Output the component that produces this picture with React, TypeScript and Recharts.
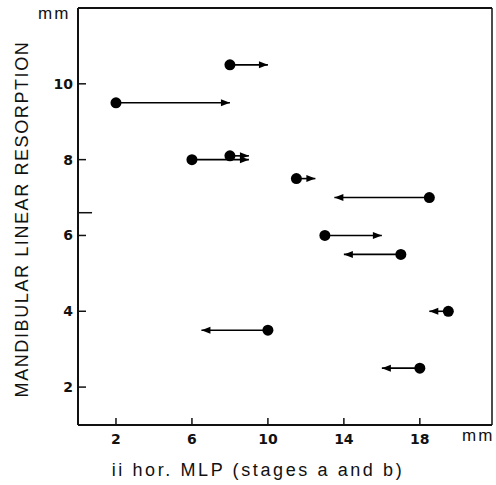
import { ReferenceLine, Scatter, ScatterChart, XAxis, YAxis } from "recharts";

// each row: resorption value (y), start of MLP range (dot) and end (arrow tip)
const resorption = [10.5, 9.5, 8, 8.1, 7.5, 7, 6, 5.5, 4, 3.5, 2.5];
const mlpStart = [8, 2, 6, 8, 11.5, 18.5, 13, 17, 19.5, 10, 18];
const mlpEnd = [10, 8, 9, 9, 12.5, 13.5, 16, 14, 18.5, 6.5, 16];

const xTicks = [2, 6, 10, 14, 18];
const yTicks = [2, 4, 6, 8, 10];
const xDomain = [0, 21.8];
const yDomain = [1, 12];
const markY = 6.6;

const W = 496;
const H = 485;

const dots = resorption.map((y, i) => ({ x: mlpStart[i], y }));
const heads = resorption.map((y, i) => ({ x: mlpEnd[i], y, dir: mlpEnd[i] > mlpStart[i] ? 1 : -1 }));
const segments = resorption.map((y, i) => [
  { x: mlpStart[i], y },
  { x: mlpEnd[i], y },
]);

const tickFont = { fontFamily: "'DejaVu Sans', sans-serif", fontWeight: 700, fontSize: 14, fill: "#111" };
const labelFont = "'Liberation Sans', Arial, sans-serif";

function XTick({ x, y, payload }: any) {
  return (
    <g>
      <line x1={x} x2={x} y1={y} y2={y - 7} stroke="#111" strokeWidth={1.5} />
      <text x={x} y={y + 19} textAnchor="middle" {...tickFont}>
        {payload.value}
      </text>
    </g>
  );
}

function YTick({ x, y, payload }: any) {
  return (
    <g>
      <line x1={x} x2={x + 8} y1={y} y2={y} stroke="#111" strokeWidth={1.5} />
      <text x={x - 5} y={y + 5} textAnchor="end" {...tickFont}>
        {payload.value}
      </text>
    </g>
  );
}

function Dot({ cx, cy }: any) {
  return <circle cx={cx} cy={cy} r={5.5} fill="#000" />;
}

function Head({ cx, cy, payload }: any) {
  const d = payload.dir;
  const b = cx - d * 9;
  return <polygon points={`${cx},${cy} ${b},${cy - 3.5} ${b},${cy + 3.5}`} fill="#000" />;
}

export default function App() {
  return (
    <div style={{ position: "absolute", left: 0, top: 0, width: W, height: H, background: "#fff" }}>
      <ScatterChart width={W} height={H} margin={{ top: 8, right: 4, bottom: 0, left: 0 }}>
        <XAxis
          type="number"
          dataKey="x"
          domain={xDomain}
          ticks={xTicks}
          height={60}
          tickSize={0}
          tickMargin={0}
          tickLine={false}
          tick={<XTick />}
          axisLine={{ stroke: "#111", strokeWidth: 2 }}
          allowDataOverflow
        />
        <YAxis
          type="number"
          dataKey="y"
          domain={yDomain}
          ticks={yTicks}
          width={78}
          tickSize={0}
          tickMargin={0}
          tickLine={false}
          tick={<YTick />}
          axisLine={{ stroke: "#111", strokeWidth: 2 }}
          allowDataOverflow
        />
        <ReferenceLine
          ifOverflow="visible"
          segment={[
            { x: xDomain[0], y: yDomain[1] },
            { x: xDomain[1], y: yDomain[1] },
          ]}
          stroke="#111"
          strokeWidth={2}
        />
        <ReferenceLine
          ifOverflow="visible"
          segment={[
            { x: xDomain[1], y: yDomain[0] },
            { x: xDomain[1], y: yDomain[1] },
          ]}
          stroke="#111"
          strokeWidth={1.5}
        />
        <ReferenceLine
          ifOverflow="visible"
          segment={[
            { x: 0, y: markY },
            { x: 0.74, y: markY },
          ]}
          stroke="#111"
          strokeWidth={1.5}
        />
        {segments.map((seg, i) => (
          <Scatter
            key={i}
            data={seg}
            line={{ stroke: "#000", strokeWidth: 1.6 }}
            shape={() => <g />}
            isAnimationActive={false}
          />
        ))}
        <Scatter data={heads} shape={<Head />} isAnimationActive={false} />
        <Scatter data={dots} shape={<Dot />} isAnimationActive={false} />
      </ScatterChart>
      <div style={{ position: "absolute", left: 38, top: 4, fontFamily: labelFont, fontSize: 17, letterSpacing: 2, color: "#111" }}>
        mm
      </div>
      <div style={{ position: "absolute", left: 462, top: 426, fontFamily: labelFont, fontSize: 17, letterSpacing: 2, color: "#111" }}>
        mm
      </div>
      <div
        style={{
          position: "absolute",
          left: 258,
          top: 470,
          transform: "translate(-50%, -50%)",
          whiteSpace: "nowrap",
          fontFamily: labelFont,
          fontSize: 18,
          letterSpacing: 2.6,
          color: "#111",
        }}
      >
        ii hor. MLP (stages a and b)
      </div>
      <div
        style={{
          position: "absolute",
          left: 22,
          top: 219,
          transform: "translate(-50%, -50%) rotate(-90deg)",
          whiteSpace: "nowrap",
          fontFamily: labelFont,
          fontSize: 18,
          letterSpacing: 1.6,
          color: "#111",
        }}
      >
        MANDIBULAR LINEAR RESORPTION
      </div>
    </div>
  );
}
